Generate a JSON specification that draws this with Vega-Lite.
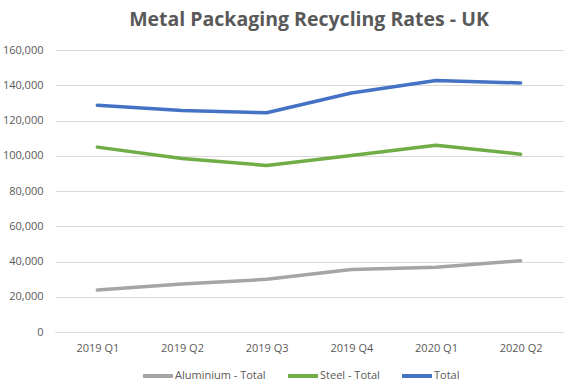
{
  "$schema": "https://vega.github.io/schema/vega-lite/v6.json",
  "width": 508,
  "height": 282,
  "autosize": {"type": "none"},
  "padding": {"left": 55, "top": 50, "right": 13, "bottom": 56},
  "background": "white",
  "title": {
    "text": "Metal Packaging Recycling Rates - UK",
    "font": "Open Sans",
    "fontSize": 19.5,
    "fontWeight": "bold",
    "color": "#595959",
    "anchor": "middle",
    "offset": 14
  },
  "config": {
    "view": {"stroke": null},
    "axis": {"labelFont": "Open Sans", "labelFontSize": 11, "labelColor": "#595959"}
  },
  "data": {
    "values": [
      {"quarter": "2019 Q1", "series": "Aluminium - Total", "value": 23800},
      {"quarter": "2019 Q2", "series": "Aluminium - Total", "value": 27200},
      {"quarter": "2019 Q3", "series": "Aluminium - Total", "value": 29900},
      {"quarter": "2019 Q4", "series": "Aluminium - Total", "value": 35500},
      {"quarter": "2020 Q1", "series": "Aluminium - Total", "value": 36700},
      {"quarter": "2020 Q2", "series": "Aluminium - Total", "value": 40400},
      {"quarter": "2019 Q1", "series": "Steel - Total", "value": 104900},
      {"quarter": "2019 Q2", "series": "Steel - Total", "value": 98500},
      {"quarter": "2019 Q3", "series": "Steel - Total", "value": 94500},
      {"quarter": "2019 Q4", "series": "Steel - Total", "value": 100100},
      {"quarter": "2020 Q1", "series": "Steel - Total", "value": 106000},
      {"quarter": "2020 Q2", "series": "Steel - Total", "value": 100900},
      {"quarter": "2019 Q1", "series": "Total", "value": 128700},
      {"quarter": "2019 Q2", "series": "Total", "value": 125700},
      {"quarter": "2019 Q3", "series": "Total", "value": 124400},
      {"quarter": "2019 Q4", "series": "Total", "value": 135600},
      {"quarter": "2020 Q1", "series": "Total", "value": 142700},
      {"quarter": "2020 Q2", "series": "Total", "value": 141300}
    ]
  },
  "mark": {"type": "line", "strokeWidth": 3.5, "strokeCap": "round", "strokeJoin": "round"},
  "encoding": {
    "x": {
      "field": "quarter",
      "type": "ordinal",
      "scale": {"type": "point", "padding": 0.5},
      "title": null,
      "axis": {
        "labelAngle": 0,
        "ticks": false,
        "domainColor": "#D9D9D9",
        "labelPadding": 10,
        "grid": false
      }
    },
    "y": {
      "field": "value",
      "type": "quantitative",
      "scale": {"domain": [0, 160000], "nice": false},
      "title": null,
      "axis": {
        "values": [0, 20000, 40000, 60000, 80000, 100000, 120000, 140000, 160000],
        "format": ",d",
        "ticks": false,
        "domain": false,
        "gridColor": "#D9D9D9",
        "labelPadding": 12
      }
    },
    "color": {
      "field": "series",
      "type": "nominal",
      "scale": {
        "domain": ["Aluminium - Total", "Steel - Total", "Total"],
        "range": ["#A5A5A5", "#70AD47", "#4472C4"]
      },
      "legend": {
        "orient": "none",
        "legendX": 86,
        "legendY": 309,
        "direction": "horizontal",
        "title": null,
        "symbolType": "stroke",
        "symbolSize": 900,
        "symbolStrokeWidth": 4,
        "labelFont": "Open Sans",
        "labelFontSize": 11,
        "labelColor": "#595959",
        "columnPadding": 14,
        "labelOffset": 0
      }
    }
  }
}
